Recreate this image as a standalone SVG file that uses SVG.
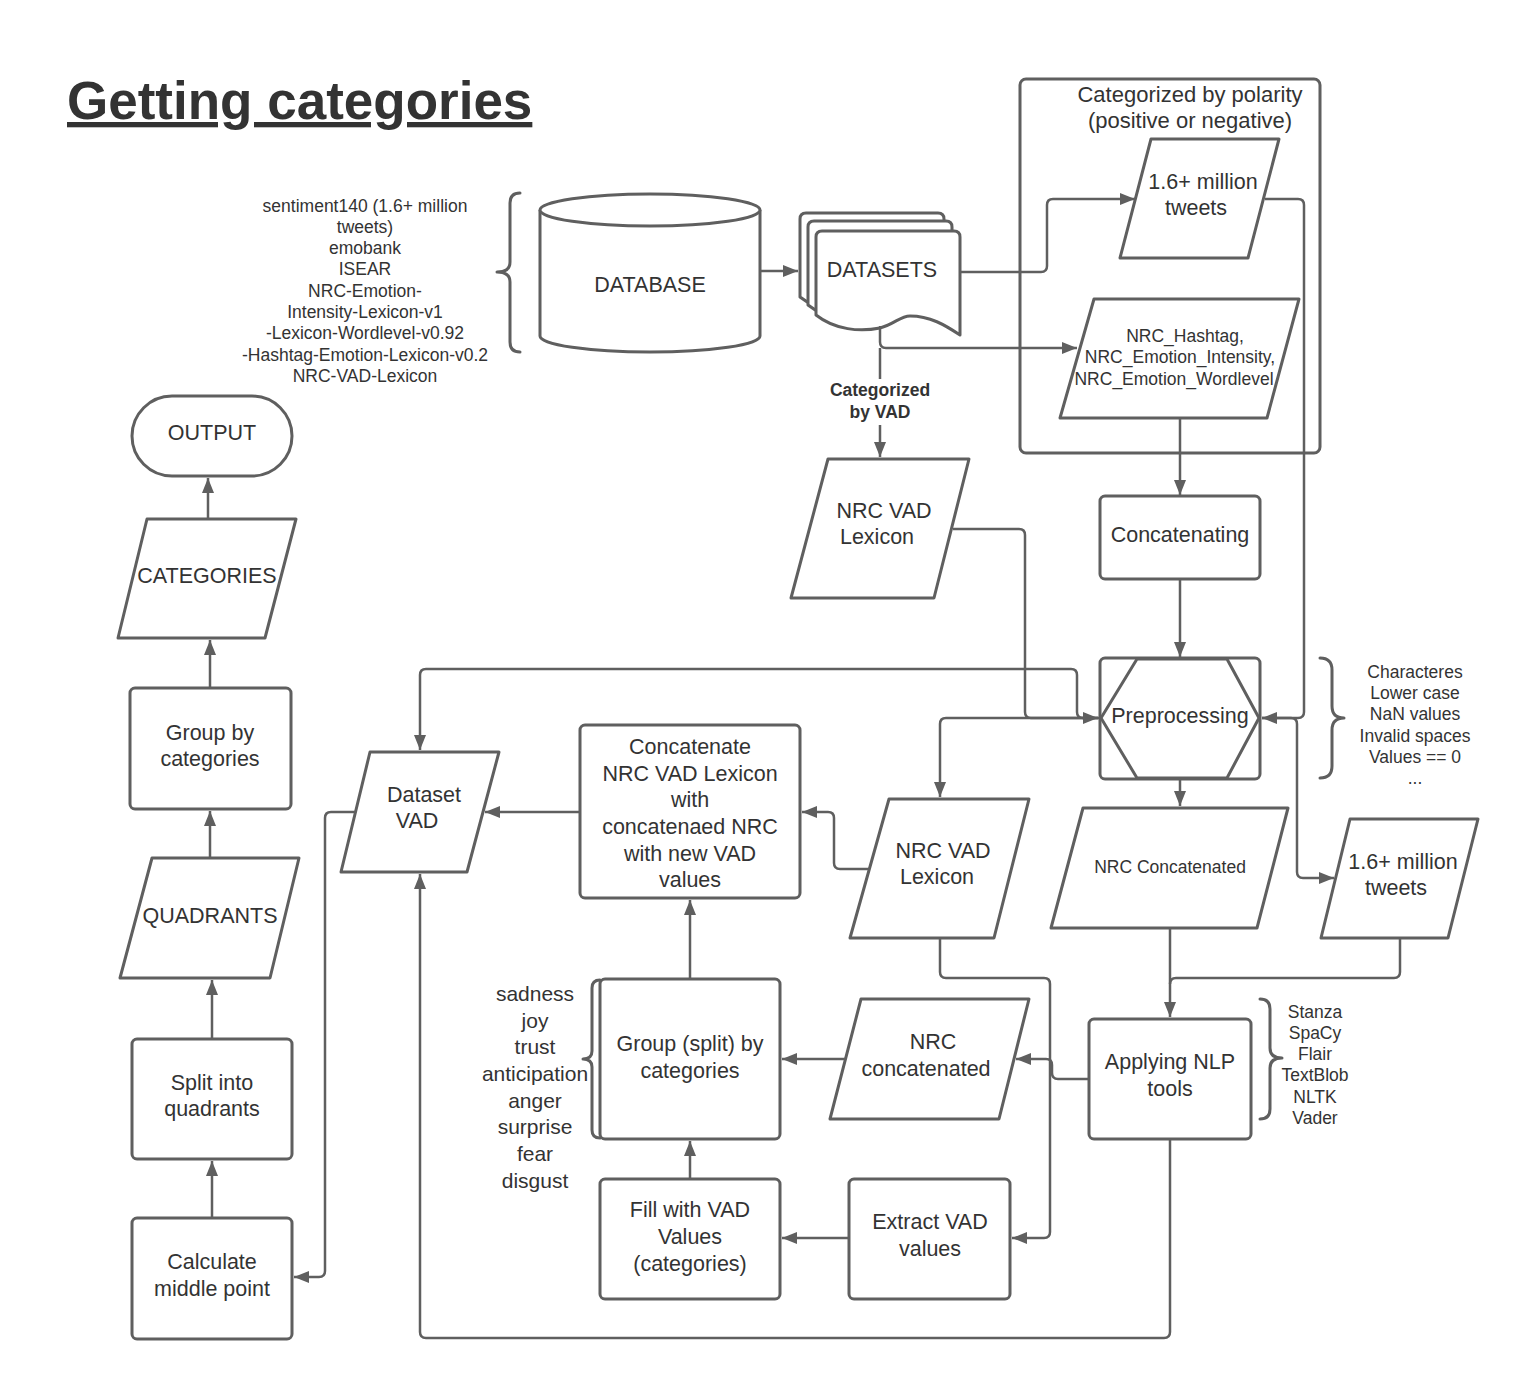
<svg xmlns="http://www.w3.org/2000/svg" width="1520" height="1379" viewBox="0 0 1520 1379">
<style>
.s{fill:#fff;stroke:#5f5f5f;stroke-width:3;stroke-linejoin:round}
.t{font-family:"Liberation Sans",Arial,sans-serif;font-size:21.5px;fill:#333;text-anchor:middle}
.m{font-size:17.5px}
.b{font-weight:bold}
.c{fill:none;stroke:#5f5f5f;stroke-width:2.5;stroke-linejoin:round}
.br{fill:none;stroke:#5f5f5f;stroke-width:3;stroke-linecap:round;stroke-linejoin:round}
</style>
<defs>
<marker id="a" markerUnits="userSpaceOnUse" markerWidth="16" markerHeight="14" refX="15" refY="7" orient="auto">
<path d="M0,1 L15,7 L0,13 z" fill="#5f5f5f"/>
</marker>
<path id="doc" d="M816,315 V237 Q816,231 822,231 H954 Q960,231 960,237 V335 C945,325 930,316 910,316 C900,316 895,324 880,328 C860,332 835,330 816,315 Z"/>
</defs>
<rect width="1520" height="1379" fill="#fff"/>

<g id="title">
<text x="67" y="119" class="t b" style="font-size:53px;text-anchor:start;text-decoration:underline">Getting categories</text>
</g>

<g id="sources">
<path class="br" d="M520,193 Q510,193 510,203 V262 Q510,272 497,272 Q510,272 510,282 V342 Q510,352 520,352"/>
<text class="t m" x="365"><tspan x="365" y="212">sentiment140 (1.6+ million</tspan><tspan x="365" y="233">tweets)</tspan><tspan x="365" y="254">emobank</tspan><tspan x="365" y="275">ISEAR</tspan><tspan x="365" y="297">NRC-Emotion-</tspan><tspan x="365" y="318">Intensity-Lexicon-v1</tspan><tspan x="365" y="339">-Lexicon-Wordlevel-v0.92</tspan><tspan x="365" y="361">-Hashtag-Emotion-Lexicon-v0.2</tspan><tspan x="365" y="382">NRC-VAD-Lexicon</tspan></text>
</g>

<g id="database">
<path class="s" d="M540,210 V336 A110,16 0 0 0 760,336 V210"/>
<ellipse class="s" cx="650" cy="210" rx="110" ry="16"/>
<text class="t" x="650" y="292">DATABASE</text>
</g>

<g id="datasets">
<use href="#doc" class="s" transform="translate(-16,-18)"/>
<use href="#doc" class="s" transform="translate(-8,-10)"/>
<use href="#doc" class="s"/>
<text class="t" x="882" y="277">DATASETS</text>
</g>

<g id="polarity-group">
<rect class="s" style="fill:none" x="1020" y="79" width="300" height="374" rx="6"/>
<text class="t" style="font-size:22px"><tspan x="1190" y="102">Categorized by polarity</tspan><tspan x="1190" y="128">(positive or negative)</tspan></text>
</g>

<g id="tweets-top">
<path class="s" d="M1151,139 H1279 L1248,258 H1120 Z"/>
<text class="t"><tspan x="1203" y="189">1.6+ million</tspan><tspan x="1196" y="215">tweets</tspan></text>
</g>

<g id="nrc-lexicons">
<path class="s" d="M1094,299 H1299 L1267,418 H1060 Z"/>
<text class="t m"><tspan x="1185" y="342">NRC_Hashtag,</tspan><tspan x="1180" y="363">NRC_Emotion_Intensity,</tspan><tspan x="1174" y="385">NRC_Emotion_Wordlevel</tspan></text>
</g>

<g id="nrc-vad-top">
<path class="s" d="M828,459 H969 L934,598 H791 Z"/>
<text class="t"><tspan x="884" y="518">NRC VAD</tspan><tspan x="877" y="544">Lexicon</tspan></text>
</g>

<g id="concatenating">
<rect class="s" x="1100" y="496" width="160" height="83" rx="5"/>
<text class="t" x="1180" y="542">Concatenating</text>
</g>

<g id="preprocessing">
<rect class="s" x="1100" y="658" width="160" height="121" rx="5"/>
<path class="s" d="M1137,659 H1227 L1259,718 L1227,778 H1137 L1101,718 Z"/>
<text class="t" x="1180" y="723">Preprocessing</text>
</g>

<g id="preprocessing-notes">
<path class="br" d="M1320,658 Q1332,658 1332,670 V706 Q1332,718 1344,718 Q1332,718 1332,730 V766 Q1332,778 1320,778"/>
<text class="t m"><tspan x="1415" y="678">Characteres</tspan><tspan x="1415" y="699">Lower case</tspan><tspan x="1415" y="720">NaN values</tspan><tspan x="1415" y="742">Invalid spaces</tspan><tspan x="1415" y="763">Values == 0</tspan><tspan x="1415" y="784">...</tspan></text>
</g>

<g id="nrc-concatenated-top">
<path class="s" d="M1083,808 H1288 L1257,928 H1051 Z"/>
<text class="t m" x="1170" y="873">NRC Concatenated</text>
</g>

<g id="tweets-bottom">
<path class="s" d="M1350,819 H1478 L1448,938 H1321 Z"/>
<text class="t"><tspan x="1403" y="869">1.6+ million</tspan><tspan x="1396" y="895">tweets</tspan></text>
</g>

<g id="nlp-tools">
<rect class="s" x="1089" y="1019" width="162" height="120" rx="5"/>
<text class="t"><tspan x="1170" y="1069">Applying NLP</tspan><tspan x="1170" y="1096">tools</tspan></text>
</g>

<g id="nlp-notes">
<path class="br" d="M1260,999 Q1270,999 1270,1009 V1048 Q1270,1058 1282,1058 Q1270,1058 1270,1068 V1109 Q1270,1119 1260,1119"/>
<text class="t m"><tspan x="1315" y="1018">Stanza</tspan><tspan x="1315" y="1039">SpaCy</tspan><tspan x="1315" y="1060">Flair</tspan><tspan x="1315" y="1081">TextBlob</tspan><tspan x="1315" y="1103">NLTK</tspan><tspan x="1315" y="1124">Vader</tspan></text>
</g>

<g id="nrc-vad-bottom">
<path class="s" d="M889,799 H1029 L994,938 H850 Z"/>
<text class="t"><tspan x="943" y="858">NRC VAD</tspan><tspan x="937" y="884">Lexicon</tspan></text>
</g>

<g id="concatenate-nrc">
<rect class="s" x="580" y="725" width="220" height="173" rx="5"/>
<text class="t"><tspan x="690" y="754">Concatenate</tspan><tspan x="690" y="781">NRC VAD Lexicon</tspan><tspan x="690" y="807">with</tspan><tspan x="690" y="834">concatenaed NRC</tspan><tspan x="690" y="861">with new VAD</tspan><tspan x="690" y="887">values</tspan></text>
</g>

<g id="dataset-vad">
<path class="s" d="M370,752 H499 L467,872 H341 Z"/>
<text class="t"><tspan x="424" y="802">Dataset</tspan><tspan x="417" y="828">VAD</tspan></text>
</g>

<g id="nrc-concatenated-bottom">
<path class="s" d="M861,999 H1029 L999,1119 H830 Z"/>
<text class="t"><tspan x="933" y="1049">NRC</tspan><tspan x="926" y="1076">concatenated</tspan></text>
</g>

<g id="group-split">
<rect class="s" x="600" y="979" width="180" height="160" rx="5"/>
<path class="br" d="M600,980 Q592,980 592,988 V1051 Q592,1059 583,1059 Q592,1059 592,1067 V1130 Q592,1138 600,1138"/>
<text class="t"><tspan x="690" y="1051">Group (split) by</tspan><tspan x="690" y="1078">categories</tspan></text>
</g>

<g id="emotions">
<text class="t" style="font-size:21px"><tspan x="535" y="1001">sadness</tspan><tspan x="535" y="1028">joy</tspan><tspan x="535" y="1054">trust</tspan><tspan x="535" y="1081">anticipation</tspan><tspan x="535" y="1108">anger</tspan><tspan x="535" y="1134">surprise</tspan><tspan x="535" y="1161">fear</tspan><tspan x="535" y="1188">disgust</tspan></text>
</g>

<g id="fill-vad">
<rect class="s" x="600" y="1179" width="180" height="120" rx="5"/>
<text class="t"><tspan x="690" y="1217">Fill with VAD</tspan><tspan x="690" y="1244">Values</tspan><tspan x="690" y="1271">(categories)</tspan></text>
</g>

<g id="extract-vad">
<rect class="s" x="849" y="1179" width="161" height="120" rx="5"/>
<text class="t"><tspan x="930" y="1229">Extract VAD</tspan><tspan x="930" y="1256">values</tspan></text>
</g>

<g id="output">
<rect class="s" x="132" y="396" width="160" height="80" rx="40"/>
<text class="t" x="212" y="440">OUTPUT</text>
</g>

<g id="categories">
<path class="s" d="M147,519 H296 L265,638 H118 Z"/>
<text class="t" x="207" y="583">CATEGORIES</text>
</g>

<g id="group-by-categories">
<rect class="s" x="130" y="688" width="161" height="121" rx="5"/>
<text class="t"><tspan x="210" y="740">Group by</tspan><tspan x="210" y="766">categories</tspan></text>
</g>

<g id="quadrants">
<path class="s" d="M152,858 H299 L270,978 H120 Z"/>
<text class="t" x="210" y="923">QUADRANTS</text>
</g>

<g id="split-quadrants">
<rect class="s" x="132" y="1039" width="160" height="120" rx="5"/>
<text class="t"><tspan x="212" y="1090">Split into</tspan><tspan x="212" y="1116">quadrants</tspan></text>
</g>

<g id="middle-point">
<rect class="s" x="132" y="1218" width="160" height="121" rx="5"/>
<text class="t"><tspan x="212" y="1269">Calculate</tspan><tspan x="212" y="1296">middle point</tspan></text>
</g>

<g id="connectors">
<path class="c" marker-end="url(#a)" d="M760,271 H798"/>
<path class="c" marker-end="url(#a)" d="M960,272 H1041 Q1047,272 1047,266 V205 Q1047,199 1053,199 H1135"/>
<path class="c" marker-end="url(#a)" d="M880,326 V342 Q880,348 886,348 H1077"/>
<path class="c" d="M880,348 V379"/>
<path class="c" marker-end="url(#a)" d="M880,425 V457"/>
<text class="t m b"><tspan x="880" y="396">Categorized</tspan><tspan x="880" y="418">by VAD</tspan></text>
<path class="c" marker-end="url(#a)" d="M1180,418 V495"/>
<path class="c" marker-end="url(#a)" d="M1180,579 V657"/>
<path class="c" marker-end="url(#a)" d="M1265,199 H1298 Q1304,199 1304,205 V712 Q1304,718 1298,718 H1262"/>
<path class="c" marker-end="url(#a)" d="M953,529 H1019 Q1025,529 1025,535 V712 Q1025,718 1031,718 H1098"/>
<path class="c" marker-end="url(#a)" d="M1098,718 H1083 Q1077,718 1077,712 V675 Q1077,669 1071,669 H426 Q420,669 420,675 V750"/>
<path class="c" marker-end="url(#a)" d="M1100,718 H946 Q940,718 940,724 V797"/>
<path class="c" marker-end="url(#a)" d="M1180,779 V806"/>
<path class="c" marker-end="url(#a)" d="M1262,718 H1291 Q1297,718 1297,724 V872 Q1297,878 1303,878 H1334"/>
<path class="c" marker-end="url(#a)" d="M1170,928 V1017"/>
<path class="c" d="M1400,938 V972 Q1400,978 1394,978 H1176 Q1170,978 1170,984"/>
<path class="c" marker-end="url(#a)" d="M1089,1079 H1058 Q1052,1079 1052,1073 V1065 Q1052,1059 1046,1059 H1016"/>
<path class="c" marker-end="url(#a)" d="M940,938 V972 Q940,978 946,978 H1044 Q1050,978 1050,984 V1232 Q1050,1238 1044,1238 H1012"/>
<path class="c" marker-end="url(#a)" d="M849,1238 H782"/>
<path class="c" marker-end="url(#a)" d="M690,1179 V1141"/>
<path class="c" marker-end="url(#a)" d="M845,1059 H782"/>
<path class="c" marker-end="url(#a)" d="M690,979 V900"/>
<path class="c" marker-end="url(#a)" d="M869,869 H840 Q834,869 834,863 V818 Q834,812 828,812 H802"/>
<path class="c" marker-end="url(#a)" d="M580,812 H485"/>
<path class="c" marker-end="url(#a)" d="M1170,1139 V1332 Q1170,1338 1164,1338 H426 Q420,1338 420,1332 V874"/>
<path class="c" marker-end="url(#a)" d="M355,812 H331 Q325,812 325,818 V1271 Q325,1277 319,1277 H294"/>
<path class="c" marker-end="url(#a)" d="M212,1218 V1161"/>
<path class="c" marker-end="url(#a)" d="M212,1039 V980"/>
<path class="c" marker-end="url(#a)" d="M210,858 V811"/>
<path class="c" marker-end="url(#a)" d="M210,688 V640"/>
<path class="c" marker-end="url(#a)" d="M208,519 V478"/>
</g>
</svg>
